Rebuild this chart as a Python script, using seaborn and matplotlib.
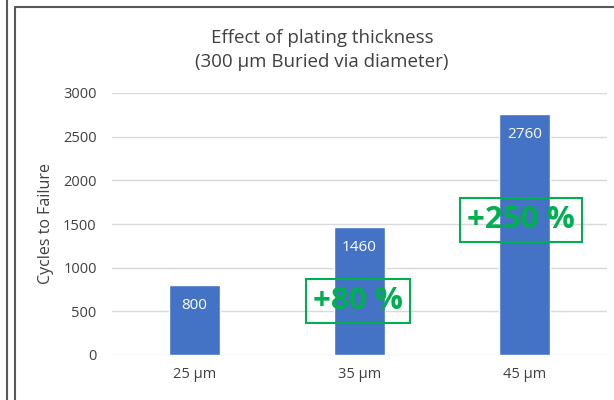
import matplotlib
matplotlib.use("Agg")
import matplotlib.pyplot as plt
import seaborn as sns
import pandas as pd
from matplotlib.lines import Line2D

categories = ["25 µm", "35 µm", "45 µm"]
cycles = [800, 1460, 2760]
increase_labels = ["+80 %", "+250 %"]
increase_pos = [(0.99, 620), (1.98, 1545)]
yticks = [0, 500, 1000, 1500, 2000, 2500, 3000]

sns.set_theme(style="white")
plt.rcParams['font.family'] = ['Open Sans', 'DejaVu Sans']

df = pd.DataFrame({"cat": categories, "cycles": cycles})

fig = plt.figure(figsize=(6.14, 4.0), dpi=100)
ax = fig.add_axes([112/614, 45/400, 495/614, 262/400])

sns.barplot(data=df, x="cat", y="cycles", color="#4472C4", width=0.315,
            saturation=1, ax=ax, zorder=3)

ax.set_ylim(0, 3000)
ax.set_yticks(yticks)
ax.set_yticklabels([str(t) for t in yticks])
ax.grid(axis="y", color="#D9D9D9", linewidth=1, zorder=0)
ax.set_axisbelow(True)
for s in ["top", "right", "left", "bottom"]:
    ax.spines[s].set_visible(False)
ax.tick_params(axis="both", length=0, labelsize=10.5, colors="#404040")
ax.tick_params(axis="y", pad=11)
ax.tick_params(axis="x", pad=9)
ax.set_xlabel("")
ax.set_ylabel("Cycles to Failure", fontsize=11.5, color="#404040")
ax.yaxis.set_label_coords(-58/495, 0.5)

for i, v in enumerate(cycles):
    ax.annotate(str(v), (i, v), xytext=(0, -14.5), textcoords="offset points",
                ha="center", va="center", color="white", fontsize=11, zorder=5)

for lab, (x, y) in zip(increase_labels, increase_pos):
    ax.text(x, y, lab, ha="center", va="center", color="#00B050",
            fontsize=22.5, fontweight="bold", zorder=6,
            bbox=dict(boxstyle="square,pad=0.22", fc="none", ec="#00B050", lw=1.5))

fig.text(322/614, 1 - 38/400, "Effect of plating thickness", ha="center", va="center",
         fontsize=13.5, color="#404040")
fig.text(322/614, 1 - 62/400, "(300 µm Buried via diameter)", ha="center", va="center",
         fontsize=13.5, color="#404040")

# frame lines
fig.add_artist(Line2D([7/614, 7/614], [0, 1], color="#595959", lw=1.5))
fig.add_artist(Line2D([15/614, 15/614], [0, 1 - 7/400], color="#595959", lw=1.5))
fig.add_artist(Line2D([15/614, 1], [1 - 7/400, 1 - 7/400], color="#595959", lw=1.5))

fig.savefig("out.png", dpi=100)
